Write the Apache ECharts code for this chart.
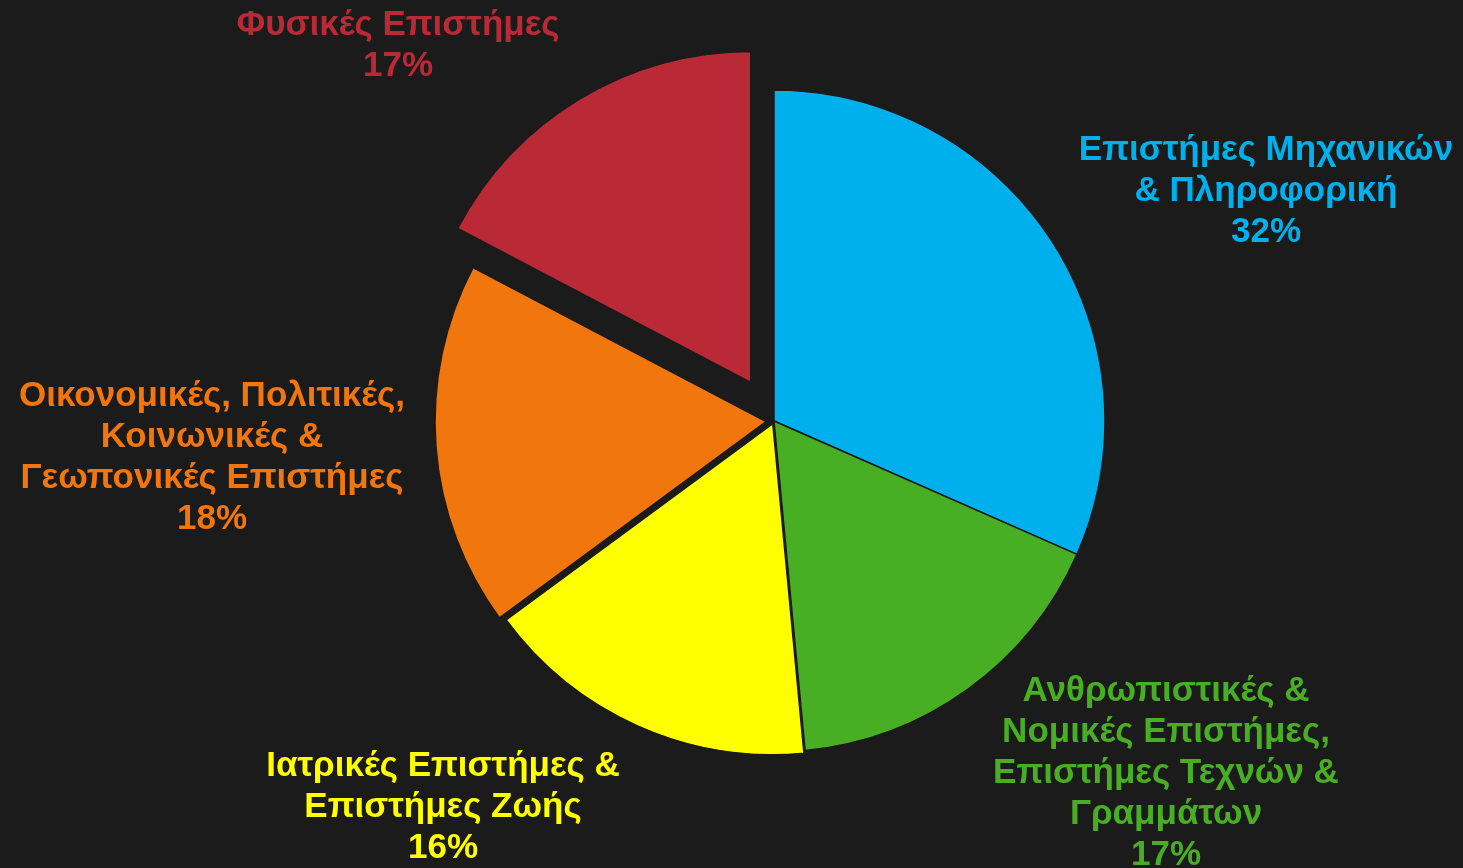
<!DOCTYPE html>
<html>
<head>
<meta charset="utf-8">
<script src="https://cdn.jsdelivr.net/npm/echarts@6/dist/echarts.min.js"></script>
<style>
    html, body { margin: 0; padding: 0; background: #1b1b1b; }
    #main { width: 1463px; height: 868px; }
</style>
</head>
<body>
<div id="main"></div>
<script>
// slices, clockwise from 12 o'clock
const categories = [
    'Επιστήμες Μηχανικών\n& Πληροφορική',
    'Ανθρωπιστικές &\nΝομικές Επιστήμες,\nΕπιστήμες Τεχνών &\nΓραμμάτων',
    'Ιατρικές Επιστήμες &\nΕπιστήμες Ζωής',
    'Οικονομικές, Πολιτικές,\nΚοινωνικές &\nΓεωπονικές Επιστήμες',
    'Φυσικές Επιστήμες',
]
const shares = [31.6, 16.9, 16.4, 17.8, 17.3]

// styling
const colors = ['#00b0ec', '#48ae24', '#ffff00', '#f2760e', '#ba2a36']
const explode = [0, 0, 3, 8, 45]
const labelPos = [[1266, 191], [1166, 773], [443, 807], [212, 458], [398, 46]]

window.addEventListener('load', () => {
    main()
})

function main() {
    const chart = echarts.init(document.getElementById('main'))
    const total = shares.reduce((a, b) => a + b, 0)

    // one pie per offset, the other slices stay transparent
    const offsets = [...new Set(explode)]
    const series = offsets.map(off => ({
        type: 'pie',
        center: [774, 421],
        radius: 331,
        startAngle: 90,
        silent: true,
        animation: false,
        selectedMode: 'multiple',
        selectedOffset: off,
        emphasis: { disabled: true },
        label: { show: false },
        labelLine: { show: false },
        data: categories.map((name, i) => {
            const mine = explode[i] === off
            return {
                name,
                value: shares[i],
                selected: mine && off > 0,
                itemStyle: mine
                    ? { color: colors[i], borderColor: '#1b1b1b', borderWidth: 1.5 }
                    : { color: 'transparent', borderWidth: 0 },
            }
        }),
    }))

    // slice labels, centred blocks
    const labels = categories.map((name, i) => ({
        type: 'text',
        x: labelPos[i][0],
        y: labelPos[i][1],
        silent: true,
        style: {
            text: `${name}\n${Math.round(shares[i] / total * 100)}%`,
            fill: colors[i],
            font: 'bold 35px "Liberation Sans", Arial, sans-serif',
            lineHeight: 41,
            align: 'center',
            verticalAlign: 'middle',
        },
    }))

    chart.setOption({
        backgroundColor: '#1b1b1b',
        series,
        graphic: labels,
    })
}
</script>
</body>
</html>
